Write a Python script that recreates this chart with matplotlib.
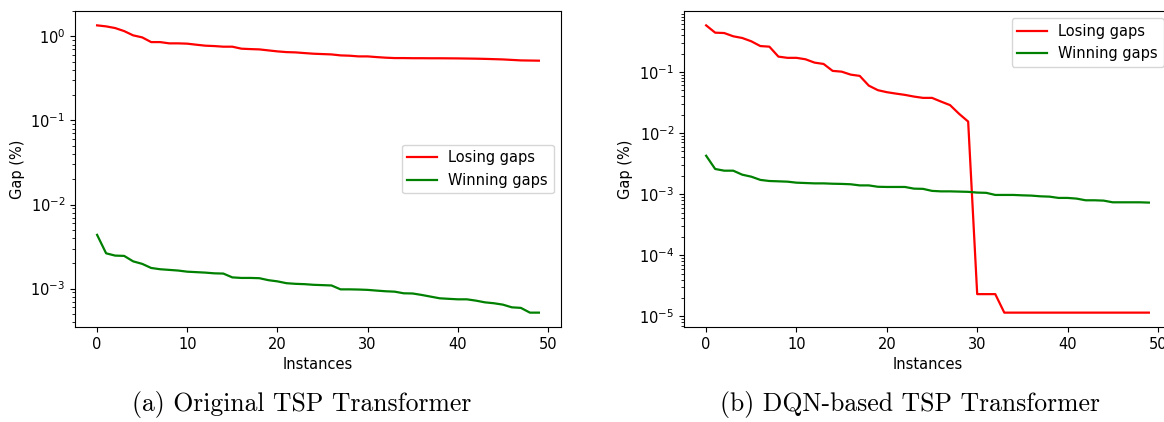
import matplotlib
matplotlib.use("Agg")
import matplotlib.pyplot as plt
import numpy as np

instances = list(range(50))

orig_losing = [1.352, 1.315, 1.256, 1.156, 1.028, 0.973, 0.855, 0.855, 0.826, 0.826,
               0.819, 0.796, 0.775, 0.767, 0.754, 0.754, 0.714, 0.706, 0.700, 0.681,
               0.663, 0.650, 0.645, 0.633, 0.622, 0.616, 0.610, 0.594, 0.589, 0.578,
               0.578, 0.567, 0.558, 0.552, 0.552, 0.550, 0.550, 0.549, 0.549, 0.548,
               0.547, 0.545, 0.543, 0.540, 0.536, 0.532, 0.525, 0.518, 0.516, 0.514]
orig_winning = [4.36e-3, 2.63e-3, 2.47e-3, 2.45e-3, 2.11e-3, 1.97e-3, 1.76e-3, 1.70e-3, 1.67e-3, 1.64e-3,
                1.59e-3, 1.57e-3, 1.55e-3, 1.52e-3, 1.51e-3, 1.36e-3, 1.34e-3, 1.34e-3, 1.33e-3, 1.26e-3,
                1.22e-3, 1.16e-3, 1.14e-3, 1.13e-3, 1.11e-3, 1.10e-3, 1.09e-3, 9.8e-4, 9.8e-4, 9.75e-4,
                9.66e-4, 9.47e-4, 9.30e-4, 9.2e-4, 8.8e-4, 8.75e-4, 8.41e-4, 8.03e-4, 7.67e-4, 7.56e-4,
                7.46e-4, 7.46e-4, 7.2e-4, 6.87e-4, 6.7e-4, 6.45e-4, 5.99e-4, 5.9e-4, 5.18e-4, 5.18e-4]

dqn_losing = [0.578, 0.439, 0.433, 0.383, 0.359, 0.317, 0.265, 0.259, 0.178, 0.170,
              0.170, 0.161, 0.142, 0.135, 0.104, 0.101, 0.0903, 0.0861, 0.0597, 0.0503,
              0.0466, 0.0442, 0.0421, 0.0395, 0.0376, 0.0376, 0.0327, 0.0286, 0.0206, 0.0154,
              2.31e-5, 2.31e-5, 2.31e-5, 1.15e-5, 1.15e-5, 1.15e-5, 1.15e-5, 1.15e-5, 1.15e-5, 1.15e-5,
              1.15e-5, 1.15e-5, 1.15e-5, 1.15e-5, 1.15e-5, 1.15e-5, 1.15e-5, 1.15e-5, 1.15e-5, 1.15e-5]
dqn_winning = [4.25e-3, 2.58e-3, 2.42e-3, 2.42e-3, 2.08e-3, 1.93e-3, 1.71e-3, 1.64e-3, 1.62e-3, 1.60e-3,
               1.54e-3, 1.52e-3, 1.50e-3, 1.50e-3, 1.48e-3, 1.47e-3, 1.45e-3, 1.39e-3, 1.39e-3, 1.32e-3,
               1.31e-3, 1.31e-3, 1.31e-3, 1.23e-3, 1.22e-3, 1.13e-3, 1.11e-3, 1.11e-3, 1.10e-3, 1.09e-3,
               1.06e-3, 1.05e-3, 9.7e-4, 9.7e-4, 9.7e-4, 9.56e-4, 9.46e-4, 9.21e-4, 9.1e-4, 8.67e-4,
               8.67e-4, 8.45e-4, 7.93e-4, 7.93e-4, 7.83e-4, 7.35e-4, 7.35e-4, 7.35e-4, 7.35e-4, 7.27e-4]

captions = ["(a) Original TSP Transformer", "(b) DQN-based TSP Transformer"]

plt.rcParams["font.size"] = 10.5

W, H = 1164, 422
fig = plt.figure(figsize=(W / 100, H / 100), dpi=100)

ax1 = fig.add_axes([75 / W, 1 - 327 / H, 486 / W, 316 / H])
ax2 = fig.add_axes([684 / W, 1 - 327 / H, 487 / W, 316 / H])

for ax, los, win, loc in [(ax1, orig_losing, orig_winning, "center right"),
                          (ax2, dqn_losing, dqn_winning, "upper right")]:
    ax.plot(instances, los, color="red", lw=1.6, label="Losing gaps")
    ax.plot(instances, win, color="green", lw=1.6, label="Winning gaps")
    ax.set_yscale("log")
    ax.set_xlabel("Instances")
    ax.set_ylabel("Gap (%)")
    ax.legend(loc=loc)

fig.text(302 / W, 1 - 405 / H, captions[0], ha="center", va="center",
         fontsize=18.5, family="cmr10")
fig.text(910 / W, 1 - 405 / H, captions[1], ha="center", va="center",
         fontsize=18.5, family="cmr10")

fig.savefig("out.png", dpi=100)
